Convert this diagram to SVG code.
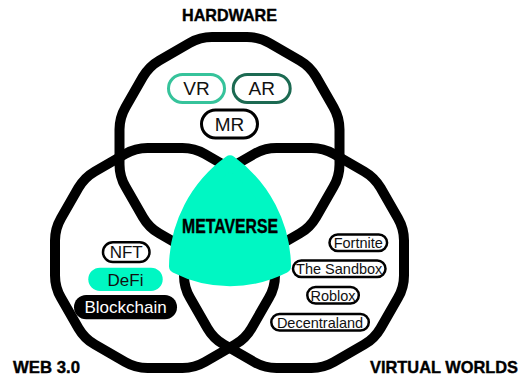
<svg xmlns="http://www.w3.org/2000/svg" width="529" height="378" viewBox="0 0 529 378">
<style>
.ring{fill:none;stroke:#000;stroke-width:10}
.title{font-family:"Liberation Sans",Arial,sans-serif;font-weight:bold;font-size:17px;fill:#000;stroke:#000;stroke-width:0.4}
.lbl{font-family:"Liberation Sans",Arial,sans-serif;fill:#111;text-anchor:middle}
.big{font-size:19px}
.sm{font-size:17px}
.xs{font-size:14.5px}
.pill{fill:#fff;stroke:#000;stroke-width:2.5}
</style>
<defs>
<path id="dodec" d="M -17.47 -110 L 17.47 -110 Q 29.47 -110 39.86 -104 L 70.14 -86.53 Q 80.53 -80.53 86.53 -70.14 L 104 -39.86 Q 110 -29.47 110 -17.47 L 110 17.47 Q 110 29.47 104 39.86 L 86.53 70.14 Q 80.53 80.53 70.14 86.53 L 39.86 104 Q 29.47 110 17.47 110 L -17.47 110 Q -29.47 110 -39.86 104 L -70.14 86.53 Q -80.53 80.53 -86.53 70.14 L -104 39.86 Q -110 29.47 -110 17.47 L -110 -17.47 Q -110 -29.47 -104 -39.86 L -86.53 -70.14 Q -80.53 -80.53 -70.14 -86.53 L -39.86 -104 Q -29.47 -110 -17.47 -110 Z"/>
</defs>
<rect width="529" height="378" fill="#fff"/>
<g id="hardware">
<use href="#dodec" class="ring" transform="translate(229.5 147)"/>
<text class="title" x="229.5" y="20.5" text-anchor="middle" textLength="95" lengthAdjust="spacingAndGlyphs">HARDWARE</text>
</g>
<g id="web3">
<use href="#dodec" class="ring" transform="translate(165 258)"/>
<text class="title" x="13" y="373" textLength="67" lengthAdjust="spacingAndGlyphs">WEB 3.0</text>
</g>
<g id="virtual-worlds">
<use href="#dodec" class="ring" transform="translate(294 258)"/>
<text class="title" x="370" y="373" textLength="148" lengthAdjust="spacingAndGlyphs">VIRTUAL WORLDS</text>
</g>
<g id="metaverse">
<path d="M 176 266.3 A 130 130 0 0 1 230 162.5 A 130 130 0 0 1 284 266.3 A 119 119 0 0 1 176 266.3 Z" fill="#00F7C3" stroke="#00F7C3" stroke-width="14" stroke-linejoin="round"/>
<text class="title" x="230" y="233.3" text-anchor="middle" style="font-size:20px" textLength="96" lengthAdjust="spacingAndGlyphs">METAVERSE</text>
</g>
<g id="vr">
<rect x="168.5" y="74.5" width="56" height="28" rx="14" fill="#fff" stroke="#36C39B" stroke-width="3"/>
<text class="lbl big" x="196.5" y="95">VR</text>
</g>
<g id="ar">
<rect x="233.2" y="74.5" width="57" height="28" rx="14" fill="#fff" stroke="#1C6A52" stroke-width="3"/>
<text class="lbl big" x="261.7" y="95">AR</text>
</g>
<g id="mr">
<rect x="201.5" y="110" width="56" height="28" rx="14" fill="#fff" stroke="#000" stroke-width="3"/>
<text class="lbl big" x="229.5" y="130.5">MR</text>
</g>
<g id="nft">
<rect class="pill" x="103" y="242.3" width="46.5" height="19.8" rx="9.9"/>
<text class="lbl sm" x="126.2" y="258">NFT</text>
</g>
<g id="defi">
<rect x="88.3" y="267.7" width="74.4" height="23.3" rx="11.65" fill="#00F7C3"/>
<text class="lbl sm" x="125.5" y="285.5">DeFi</text>
</g>
<g id="blockchain">
<rect x="74" y="295" width="103" height="24.3" rx="12.15" fill="#000"/>
<text class="lbl sm" x="125.6" y="313" style="fill:#fff">Blockchain</text>
</g>
<g id="fortnite">
<rect class="pill" x="329.5" y="234.5" width="57.6" height="16.6" rx="8.3"/>
<text class="lbl xs" x="358.3" y="248">Fortnite</text>
</g>
<g id="sandbox">
<rect class="pill" x="293" y="260.5" width="92.5" height="16.6" rx="8.3"/>
<text class="lbl xs" x="339.2" y="274">The Sandbox</text>
</g>
<g id="roblox">
<rect class="pill" x="307.3" y="287" width="51.5" height="16.6" rx="8.3"/>
<text class="lbl xs" x="333" y="300.5">Roblox</text>
</g>
<g id="decentraland">
<rect class="pill" x="271.3" y="314" width="97.5" height="16.6" rx="8.3"/>
<text class="lbl xs" x="320" y="327.5">Decentraland</text>
</g>
</svg>
